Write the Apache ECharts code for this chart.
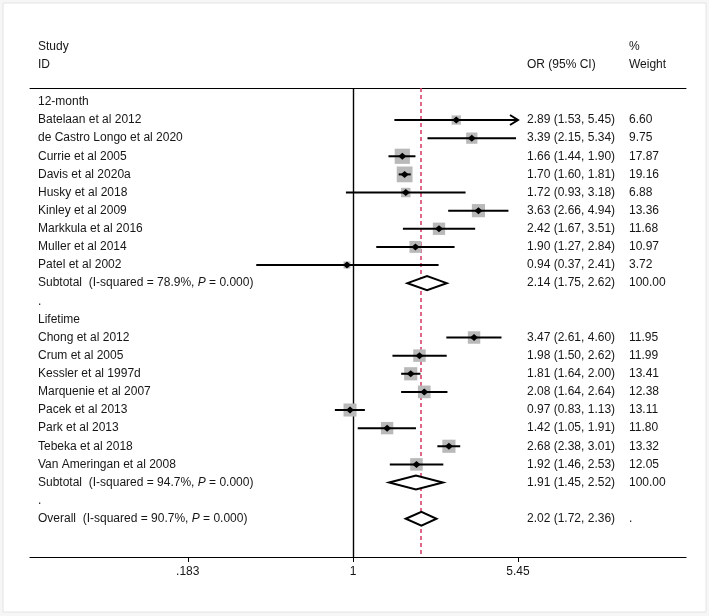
<!DOCTYPE html>
<html>
<head>
<meta charset="utf-8">
<script src="https://cdn.jsdelivr.net/npm/echarts@6/dist/echarts.min.js"></script>
<style>
html,body{margin:0;padding:0;background:#f6f6f6;}
#c{width:709px;height:616px;}
</style>
</head>
<body>
<div id="c"></div>
<script>
// ---------- data ----------
const group1Name = '12-month';
const group1Studies = ['Batelaan et al 2012','de Castro Longo et al 2020','Currie et al 2005','Davis et al 2020a','Husky et al 2018','Kinley et al 2009','Markkula et al 2016','Muller et al 2014','Patel et al 2002'];
const group1OR = [2.89, 3.39, 1.66, 1.70, 1.72, 3.63, 2.42, 1.90, 0.94];
const group1Lo = [1.53, 2.15, 1.44, 1.60, 0.93, 2.66, 1.67, 1.27, 0.37];
const group1Hi = [5.45, 5.34, 1.90, 1.81, 3.18, 4.94, 3.51, 2.84, 2.41];
const group1W  = [6.60, 9.75, 17.87, 19.16, 6.88, 13.36, 11.68, 10.97, 3.72];
const group1Sub = {label: 'Subtotal  (I-squared = 78.9%, ', p: '0.000', or: 2.14, lo: 1.75, hi: 2.62, w: 100.00};

const group2Name = 'Lifetime';
const group2Studies = ['Chong et al 2012','Crum et al 2005','Kessler et al 1997d','Marquenie et al 2007','Pacek et al 2013','Park et al 2013','Tebeka et al 2018','Van Ameringan et al 2008'];
const group2OR = [3.47, 1.98, 1.81, 2.08, 0.97, 1.42, 2.68, 1.92];
const group2Lo = [2.61, 1.50, 1.64, 1.64, 0.83, 1.05, 2.38, 1.46];
const group2Hi = [4.60, 2.62, 2.00, 2.64, 1.13, 1.91, 3.01, 2.53];
const group2W  = [11.95, 11.99, 13.41, 12.38, 13.11, 11.80, 13.32, 12.05];
const group2Sub = {label: 'Subtotal  (I-squared = 94.7%, ', p: '0.000', or: 1.91, lo: 1.45, hi: 2.52, w: 100.00};

const overall = {label: 'Overall  (I-squared = 90.7%, ', p: '0.000', or: 2.02, lo: 1.72, hi: 2.36};

const tickValues = [0.183, 1, 5.45];
const tickLabels = ['.183', '1', '5.45'];

// ---------- build rows ----------
const rows = [];
function addGroup(name, studies, ors, los, his, ws, sub) {
  rows.push({kind: 'head', label: name});
  studies.forEach((s, i) => rows.push({kind: 'study', label: s, or: ors[i], lo: los[i], hi: his[i], w: ws[i]}));
  rows.push({kind: 'sub', label: sub.label, p: sub.p, or: sub.or, lo: sub.lo, hi: sub.hi, w: sub.w});
  rows.push({kind: 'blank', label: '.'});
}
addGroup(group1Name, group1Studies, group1OR, group1Lo, group1Hi, group1W, group1Sub);
addGroup(group2Name, group2Studies, group2OR, group2Lo, group2Hi, group2W, group2Sub);
rows.push({kind: 'overall', label: overall.label, p: overall.p, or: overall.or, lo: overall.lo, hi: overall.hi, w: null});
rows.forEach((r, i) => r.row = i);

const clipMax = Math.max(...tickValues);
const FONT = '12px "Liberation Sans", Arial, Helvetica, sans-serif';
const TXT = '#161616';
const X_LABEL = 38, X_OR = 527, X_W = 629;

const chart = echarts.init(document.getElementById('c'), null, {renderer: 'canvas'});

function renderItem(params, api) {
  const r = rows[params.dataIndex];
  const y = api.coord([0, r.row])[1];
  const ch = [];
  if (r.p) {
    ch.push({type: 'text', style: {x: X_LABEL, y: y, text: '{n|' + r.label + '}{i|P}{n| = ' + r.p + ')}', verticalAlign: 'middle',
      rich: {n: {font: FONT, fill: TXT}, i: {font: 'italic ' + FONT, fill: TXT}}}});
  } else {
    ch.push({type: 'text', style: {x: X_LABEL, y: y, text: r.label, font: FONT, fill: TXT, verticalAlign: 'middle'}});
  }
  if (r.or != null) {
    ch.push({type: 'text', style: {x: X_OR, y: y, text: r.or.toFixed(2) + ' (' + r.lo.toFixed(2) + ', ' + r.hi.toFixed(2) + ')', font: FONT, fill: TXT, verticalAlign: 'middle'}});
    ch.push({type: 'text', style: {x: X_W, y: y, text: r.w == null ? '.' : r.w.toFixed(2), font: FONT, fill: TXT, verticalAlign: 'middle'}});
    const xo = api.coord([Math.log(r.or), r.row])[0];
    const xl = api.coord([Math.log(r.lo), r.row])[0];
    const xh = api.coord([Math.log(Math.min(r.hi, clipMax)), r.row])[0];
    if (r.kind === 'study') {
      const s = 3.6 * Math.sqrt(r.w);
      ch.push({type: 'rect', shape: {x: xo - s / 2, y: y - s / 2, width: s, height: s}, style: {fill: '#b9b9b9'}});
      ch.push({type: 'line', shape: {x1: xl, y1: y, x2: xh, y2: y}, style: {stroke: '#000', lineWidth: 2}});
      if (r.hi >= clipMax) {
        ch.push({type: 'polyline', shape: {points: [[xh - 8, y - 5], [xh, y], [xh - 8, y + 5]]}, style: {stroke: '#000', lineWidth: 2, fill: null}});
      }
      ch.push({type: 'polygon', shape: {points: [[xo - 4, y], [xo, y - 3.5], [xo + 4, y], [xo, y + 3.5]]}, style: {fill: '#000'}});
    } else {
      ch.push({type: 'polygon', shape: {points: [[xl, y], [xo, y - 7], [xh, y], [xo, y + 7]]}, style: {fill: '#fff', stroke: '#000', lineWidth: 2}});
    }
  }
  return {type: 'group', children: ch};
}

const option = {
  animation: false,
  backgroundColor: 'transparent',
  graphic: [
    {type: 'rect', z: -10, shape: {x: 3, y: 3, width: 703, height: 609}, style: {fill: '#fff', stroke: '#e4e4e4', lineWidth: 1}},
    {type: 'text', left: X_LABEL, top: 41, style: {text: 'Study', font: FONT, fill: TXT}},
    {type: 'text', left: X_LABEL, top: 59, style: {text: 'ID', font: FONT, fill: TXT}},
    {type: 'text', left: X_OR, top: 59, style: {text: 'OR (95% CI)', font: FONT, fill: TXT}},
    {type: 'text', left: X_W, top: 41, style: {text: '%', font: FONT, fill: TXT}},
    {type: 'text', left: X_W, top: 59, style: {text: 'Weight', font: FONT, fill: TXT}}
  ],
  grid: {left: 30, right: 23, top: 88, bottom: 59, containLabel: false, outerBoundsMode: 'none'},
  xAxis: [
    {type: 'value', position: 'bottom', min: -3.3196, max: 3.4224, splitLine: {show: false},
      axisLine: {show: true, onZero: false, lineStyle: {color: '#000', width: 1.2}},
      axisTick: {show: true, length: 5, customValues: tickValues.map(v => Math.log(v)), lineStyle: {color: '#000'}},
      axisLabel: {show: true, customValues: tickValues.map(v => Math.log(v)), margin: 9,
        formatter: v => { let best = 0; tickValues.forEach((t, i) => { if (Math.abs(Math.log(t) - v) < Math.abs(Math.log(tickValues[best]) - v)) best = i; }); return tickLabels[best]; },
        fontFamily: '"Liberation Sans", Arial, sans-serif', fontSize: 12, color: TXT}},
    {type: 'value', position: 'top', min: -3.3196, max: 3.4224, splitLine: {show: false},
      axisLine: {show: true, onZero: false, lineStyle: {color: '#000', width: 1}}, axisTick: {show: false}, axisLabel: {show: false}}
  ],
  yAxis: {type: 'value', inverse: true, min: -0.767, max: 25.11, show: false},
  series: [
    {type: 'line', data: [], xAxisIndex: 0, silent: true, z: 1,
      markLine: {silent: true, symbol: 'none', label: {show: false}, animation: false,
        data: [
          {xAxis: 0, lineStyle: {color: '#000', width: 1.4, type: 'solid'}},
          {xAxis: Math.log(overall.or), lineStyle: {color: '#d8436b', width: 1.6, type: [4, 3]}}
        ]}},
    {type: 'custom', xAxisIndex: 0, z: 5, clip: false, renderItem: renderItem,
      data: rows.map(r => [r.or != null ? Math.log(r.or) : 0, r.row])}
  ]
};
chart.setOption(option);
</script>
</body>
</html>
